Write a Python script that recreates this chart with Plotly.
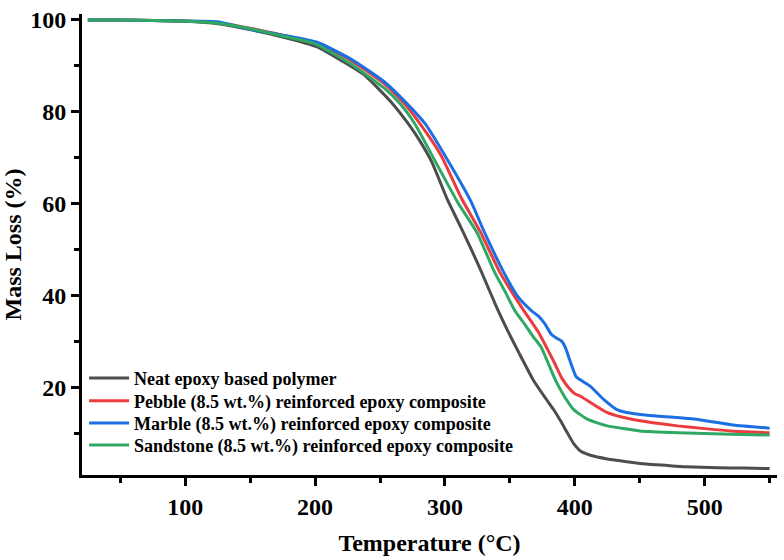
import plotly.graph_objects as go

# Temperature (°C) and mass (%)
neat_T = [25, 50, 75, 100, 125, 150, 175, 202, 220, 238, 258, 272, 281, 290, 302, 312, 320, 328, 340, 348, 357, 368, 378, 384, 389, 394, 399, 405, 412, 425, 440, 455, 470, 485, 510, 530, 550]
neat_M = [100, 100, 99.9, 99.7, 99.2, 97.9, 96.3, 94.1, 91.2, 88.0, 82.3, 77.3, 73.5, 69.0, 60.8, 55.0, 50.2, 45.2, 37.3, 32.5, 27.5, 21.6, 17.4, 15.0, 12.7, 10.2, 7.8, 6.0, 5.2, 4.4, 3.8, 3.3, 3.0, 2.7, 2.5, 2.4, 2.3]

pebble_T = [25, 50, 75, 100, 125, 150, 175, 200, 227, 253, 268, 281, 297, 313, 327, 342, 352, 361, 372, 384, 390, 395, 400, 404, 412, 425, 443, 460, 479, 500, 520, 550]
pebble_M = [100, 100, 99.9, 99.8, 99.4, 98.2, 96.7, 95.0, 91.3, 86.2, 82.0, 77.3, 70.5, 61.0, 54.0, 45.2, 40.5, 36.6, 32.0, 25.5, 22.0, 20.0, 18.6, 18.1, 16.7, 14.5, 13.1, 12.3, 11.6, 11.0, 10.5, 10.1]

marble_T = [25, 50, 75, 100, 125, 149, 175, 202, 227, 253, 270, 285, 302, 320, 330, 345, 355, 361, 367, 372, 377, 382, 386, 390, 393, 396, 401, 406, 412, 422, 432, 440, 456, 479, 497, 522, 550]
marble_M = [100, 100, 99.9, 99.8, 99.6, 98.0, 96.7, 95.1, 91.6, 86.6, 82.0, 77.3, 69.5, 60.5, 54.0, 45.2, 40.2, 38.2, 36.6, 35.5, 33.8, 31.5, 30.7, 30.0, 28.5, 26.0, 22.3, 21.3, 20.2, 17.4, 15.2, 14.5, 13.9, 13.4, 12.9, 11.8, 11.1]

sand_T = [25, 50, 75, 100, 125, 150, 175, 200, 227, 253, 266, 277, 292, 310, 325, 338, 346, 354, 362, 368, 374, 385, 392, 399, 410, 425, 450, 480, 520, 550]
sand_M = [100, 100, 99.9, 99.7, 99.3, 98.1, 96.5, 94.8, 90.5, 85.2, 81.6, 77.3, 69.5, 60.2, 53.5, 45.2, 41.0, 36.6, 33.5, 31.0, 28.8, 21.6, 18.0, 15.2, 13.0, 11.6, 10.5, 10.1, 9.8, 9.6]

names = [
    "Neat epoxy based polymer",
    "Pebble (8.5 wt.%) reinforced epoxy composite",
    "Marble (8.5 wt.%) reinforced epoxy composite",
    "Sandstone (8.5 wt.%) reinforced epoxy composite",
]
colors = ["#4d4d4d", "#ea3b3f", "#1c6fe3", "#2ea862"]
series = [(neat_T, neat_M), (pebble_T, pebble_M), (marble_T, marble_M), (sand_T, sand_M)]
legend_ids = ["legend", "legend2", "legend3", "legend4"]
legend_rows = [0.2096, 0.1605, 0.1122, 0.0646]

FONT = "Liberation Serif"

fig = go.Figure()
for (t, m), n, c, lg in zip(series, names, colors, legend_ids):
    fig.add_trace(go.Scatter(x=t, y=m, name=n, mode="lines", legend=lg,
                             line=dict(color=c, width=3, shape="spline", smoothing=0.5)))

axis_common = dict(
    showline=True, linecolor="black", linewidth=3, mirror=False,
    ticks="outside", ticklen=8, tickwidth=3, tickcolor="black",
    showgrid=False, zeroline=False,
    tickfont=dict(family=FONT, size=24, color="black", weight="bold"),
)

fig.update_xaxes(
    range=[20.5, 555.7], tickvals=[100, 200, 300, 400, 500],
    minor=dict(tickvals=[50, 150, 250, 350, 450, 550], ticklen=5, tickwidth=3, tickcolor="black", ticks="outside"),
    title=dict(text="<b>Temperature (°C)</b>", font=dict(family=FONT, size=24, color="black"), standoff=16),
    **axis_common,
)
fig.update_yaxes(
    range=[0.9, 101.3], tickvals=[20, 40, 60, 80, 100],
    minor=dict(tickvals=[10, 30, 50, 70, 90], ticklen=5, tickwidth=3, tickcolor="black", ticks="outside"),
    title=dict(text="<b>Mass Loss (%)</b>", font=dict(family=FONT, size=24, color="black"), standoff=6),
    **axis_common,
)

legend_style = dict(xanchor="left", yanchor="middle", x=0.003,
                    font=dict(family=FONT, size=18, color="black", weight="bold"),
                    bgcolor="rgba(0,0,0,0)", itemwidth=40)
layout_legends = {lg: dict(y=yr, **legend_style) for lg, yr in zip(legend_ids, legend_rows)}

fig.update_layout(
    width=784, height=560,
    margin=dict(l=81, r=7, t=8, b=83),
    plot_bgcolor="white", paper_bgcolor="white",
    showlegend=True,
    **layout_legends,
)

fig.write_html("out.html")
